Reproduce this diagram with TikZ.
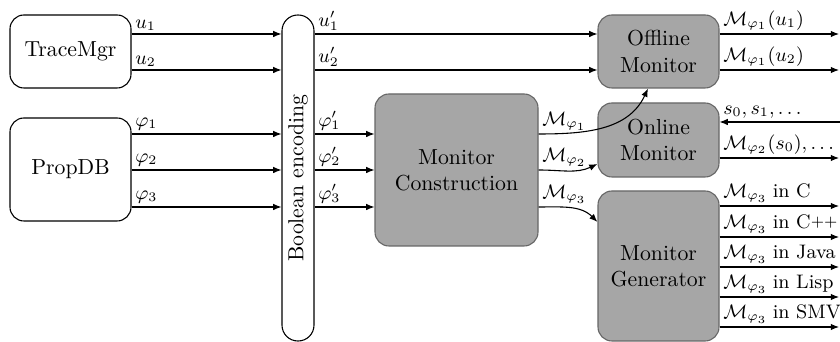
\documentclass[tikz,border=0pt]{standalone}
\usetikzlibrary{arrows.meta,fit}
\newcommand{\cpp}{C\raisebox{0.25ex}{\scriptsize ++}}
\newcommand{\mthree}{$\mathcal{M}_{\varphi_3}$\hspace{2.4pt}}
\begin{document}
\begin{tikzpicture}[x=0.46pt,y=-0.46pt,
  wbox/.style={draw=black, fill=white, rounded corners=6.4pt, line width=0.5pt, inner sep=0pt, align=center},
  gbox/.style={draw=black!60, fill=black!35, rounded corners=6.4pt, line width=0.5pt, inner sep=0pt, align=center},
  flow/.style={-{Latex[length=3.8pt,width=3pt]}, line width=0.5pt},
  lab/.style={anchor=south west, inner sep=1.5pt, font=\small}]
\useasboundingbox (0,0) rectangle (840,342);

% sources
\node[wbox, fit={(10,15) (131,88)}] (tm) {};
\node at (tm.center) {TraceMgr};
\node[wbox, fit={(10,118) (131,221)}] (pdb) {};
\node at (pdb.center) {PropDB};

% encoder
\node[draw=black, fill=white, rounded corners=7.3pt, line width=0.5pt, inner sep=0pt, fit={(282,15) (314,341)}] (enc) {};
\node[rotate=90] at (enc.center) {Boolean encoding};

% processing blocks
\node[gbox, fit={(375,94) (538,246)}] (mc) {};
\node[align=center] at (mc.center) {Monitor\\Construction};
\node[gbox, fit={(598,15) (719,88)}] (off) {};
\node[align=center] at (off.center) {Offline\\Monitor};
\node[gbox, fit={(598,103) (719,177)}] (on) {};
\node[align=center] at (on.center) {Online\\Monitor};
\node[gbox, fit={(598,191) (719,341)}] (gen) {};
\node[align=center] at (gen.center) {Monitor\\Generator};

% right border end points
\coordinate (r1) at (839,34);
\coordinate (r2) at (839,70);
\coordinate (rin) at (840,122);
\coordinate (rout) at (839,158);
\coordinate (g1) at (839,206);
\coordinate (g2) at (839,237);
\coordinate (g3) at (839,267);
\coordinate (g4) at (839,297);
\coordinate (g5) at (839,327);

% traces and properties into the encoder
\draw[flow] (tm.east |- 0,34) -- node[lab, at start] {$u_1$} (enc.west |- 0,34);
\draw[flow] (tm.east |- 0,70) -- node[lab, at start] {$u_2$} (enc.west |- 0,70);
\draw[flow] (pdb.east |- 0,134) -- node[lab, at start] {$\varphi_1$} (enc.west |- 0,134);
\draw[flow] (pdb.east |- 0,170) -- node[lab, at start] {$\varphi_2$} (enc.west |- 0,170);
\draw[flow] (pdb.east |- 0,207) -- node[lab, at start] {$\varphi_3$} (enc.west |- 0,207);

% encoded data
\draw[flow] (enc.east |- 0,34) -- node[lab, at start] {$u'_1$} (off.west |- 0,34);
\draw[flow] (enc.east |- 0,70) -- node[lab, at start] {$u'_2$} (off.west |- 0,70);
\draw[flow] (enc.east |- 0,134) -- node[lab, at start] {$\varphi'_1$} (mc.west |- 0,134);
\draw[flow] (enc.east |- 0,170) -- node[lab, at start] {$\varphi'_2$} (mc.west |- 0,170);
\draw[flow] (enc.east |- 0,207) -- node[lab, at start] {$\varphi'_3$} (mc.west |- 0,207);

% constructed monitors
\draw[flow] (mc.east |- 0,134) node[lab] {$\mathcal{M}_{\varphi_1}$}
  to[out=0, in=-115] (648,0 |- off.south);
\draw[flow] (mc.east |- 0,170) node[lab] {$\mathcal{M}_{\varphi_2}$}
  to[out=0, in=205] (on.west |- 0,164);
\draw[flow] (mc.east |- 0,207) node[lab] {$\mathcal{M}_{\varphi_3}$}
  to[out=0, in=135] (gen.west |- 0,222);

% monitor outputs
\draw[flow] (off.east |- r1) -- node[lab, at start] {$\mathcal{M}_{\varphi_1}(u_1)$} (r1);
\draw[flow] (off.east |- r2) -- node[lab, at start] {$\mathcal{M}_{\varphi_1}(u_2)$} (r2);
\draw[flow] (rin) -- (on.east |- rin);
\node[lab] at (on.east |- rin) {$s_0, s_1, \ldots$};
\draw[flow] (on.east |- rout) -- node[lab, at start] {$\mathcal{M}_{\varphi_2}(s_0), \ldots$} (rout);
\draw[flow] (gen.east |- g1) -- node[lab, at start] {\mthree in C} (g1);
\draw[flow] (gen.east |- g2) -- node[lab, at start] {\mthree in \cpp} (g2);
\draw[flow] (gen.east |- g3) -- node[lab, at start] {\mthree in Java} (g3);
\draw[flow] (gen.east |- g4) -- node[lab, at start] {\mthree in Lisp} (g4);
\draw[flow] (gen.east |- g5) -- node[lab, at start] {\mthree in SMV} (g5);
\end{tikzpicture}
\end{document}
